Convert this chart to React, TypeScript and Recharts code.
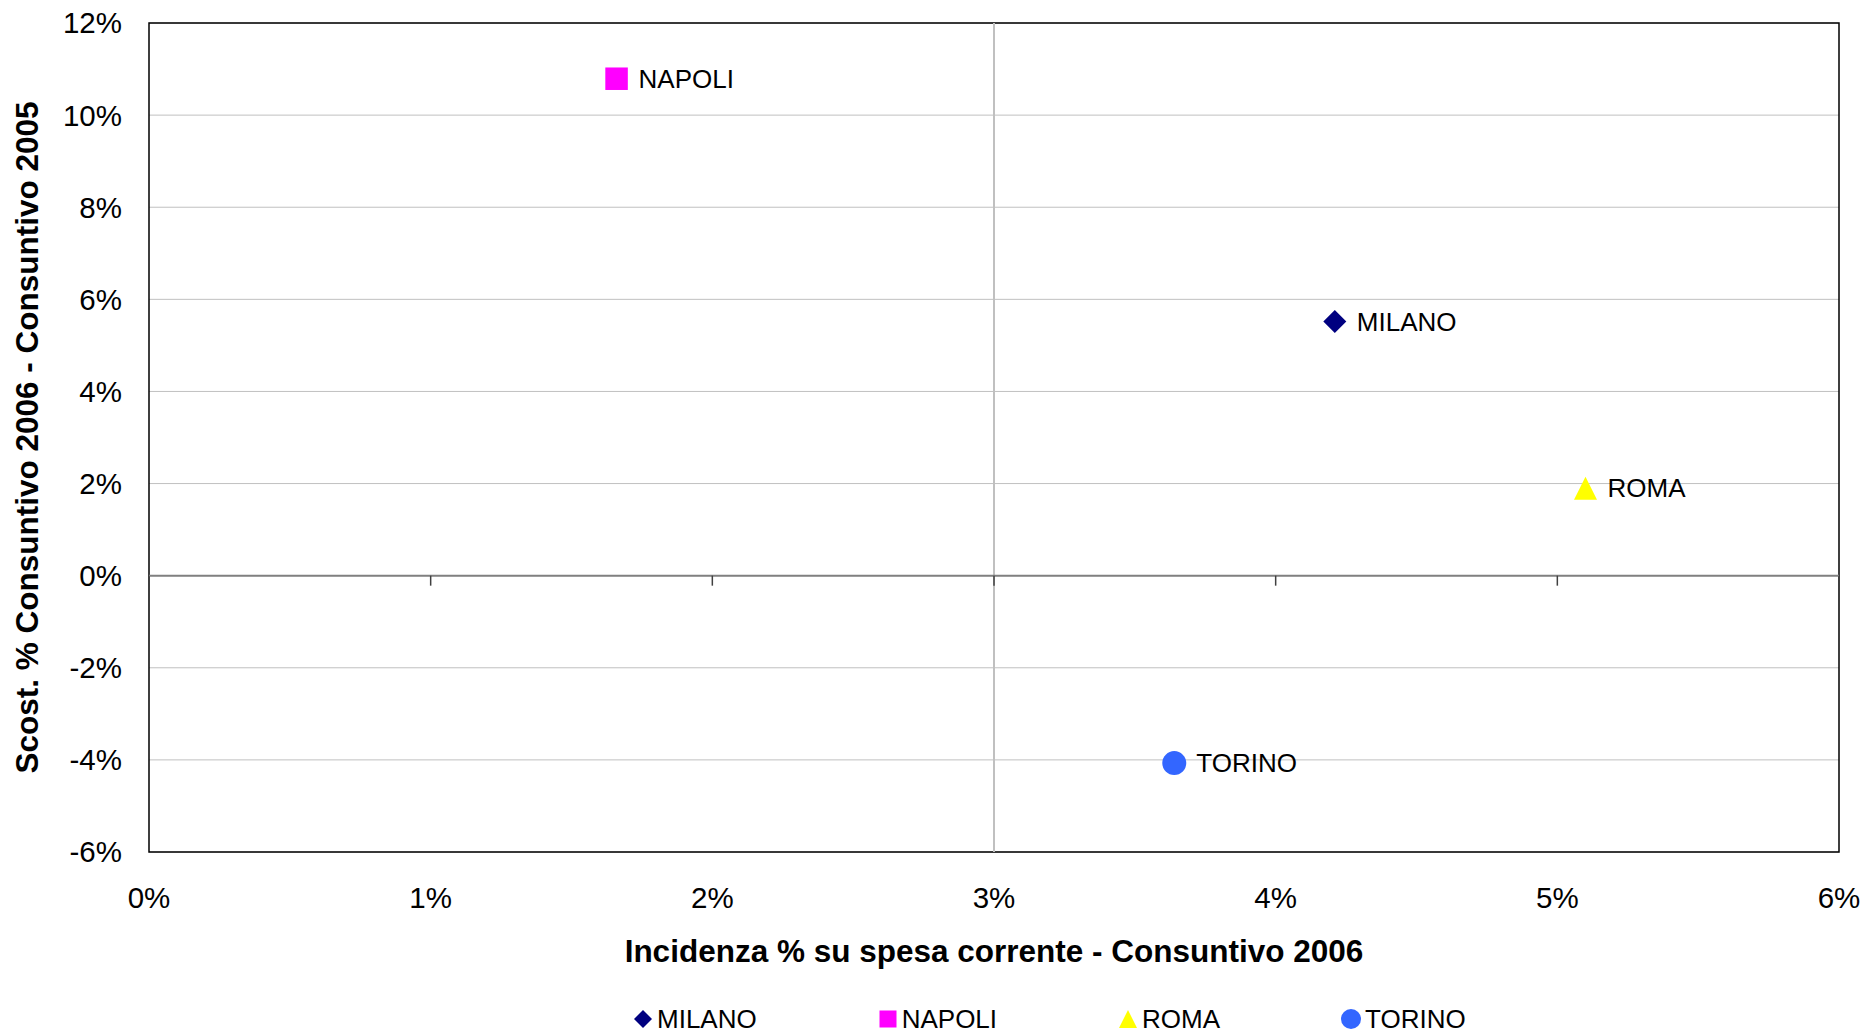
import { CartesianGrid, LabelList, Legend, ReferenceArea, ReferenceLine, Scatter, ScatterChart, XAxis, YAxis } from "recharts"

// city data: x = incidenza % 2006, y = scostamento % 2006 vs 2005
const cities = ["MILANO", "NAPOLI", "ROMA", "TORINO"]
const incidenza = [4.21, 1.66, 5.1, 3.64]
const scostamento = [5.52, 10.79, 1.9, -4.07]
const colors = ["#000080", "#FF00FF", "#FFFF00", "#3366FF"]
const markers = ["diamond", "square", "triangle", "circle"]

const xTicks = [0, 1, 2, 3, 4, 5, 6]
const yTicks = [-6, -4, -2, 0, 2, 4, 6, 8, 10, 12]
const xCross = 3
const yCross = 0

const FONT = '"Liberation Sans", Arial, Helvetica, sans-serif'
const markerR: Record<string, number> = { diamond: 11.5, square: 11.25, triangle: 11.5, circle: 12 }
const legendR: Record<string, number> = { diamond: 9, square: 8.5, triangle: 9, circle: 10 }

const pct = (v: number) => `${v}%`

const Marker = ({ kind, cx, cy, r, fill }: any) => {
    if (kind === "diamond")
        return <polygon points={`${cx},${cy - r} ${cx + r},${cy} ${cx},${cy + r} ${cx - r},${cy}`} fill={fill} />
    if (kind === "square")
        return <rect x={cx - r} y={cy - r} width={2 * r} height={2 * r} fill={fill} />
    if (kind === "triangle")
        return <polygon points={`${cx},${cy - r} ${cx + r},${cy + r} ${cx - r},${cy + r}`} fill={fill} />
    return <circle cx={cx} cy={cy} r={r} fill={fill} />
}

// horizontal axis line crossing at y = 0, with its tick marks
const ZeroAxis = (props: any) => {
    const { x1, x2, y1 } = props
    const lo = xTicks[0]
    const hi = xTicks[xTicks.length - 1]
    return (
        <g>
            <line x1={x1} y1={y1} x2={x2} y2={y1} stroke="#808080" strokeWidth={2} />
            {xTicks.map((t) => {
                const x = x1 + ((t - lo) / (hi - lo)) * (x2 - x1)
                return <line key={t} x1={x} x2={x} y1={y1} y2={y1 + 10} stroke="#404040" strokeWidth={1.5} />
            })}
        </g>
    )
}

const renderLegend = () => (
    <div style={{ display: "flex", alignItems: "center", fontFamily: FONT, fontSize: 26, lineHeight: "30px", color: "#000" }}>
        {cities.map((c, i) => (
            <div key={c} style={{ display: "flex", alignItems: "center", marginRight: i < cities.length - 1 ? 121 : 0 }}>
                <svg width={20} height={20} style={{ marginRight: 4 }}>
                    <Marker kind={markers[i]} cx={10} cy={10} r={legendR[markers[i]]} fill={colors[i]} />
                </svg>
                <span>{c}</span>
            </div>
        ))}
    </div>
)

const App = () => {
    return (
        <div style={{ position: "absolute", left: 0, top: 0 }}>
            <ScatterChart width={1865} height={1032} margin={{ top: 23, right: 26, bottom: 0, left: 0 }}>
                <CartesianGrid vertical={false} stroke="#c0c0c0" />
                <XAxis
                    type="number"
                    dataKey="x"
                    domain={[xTicks[0], xTicks[xTicks.length - 1]]}
                    ticks={xTicks}
                    interval={0}
                    tickFormatter={pct}
                    axisLine={false}
                    tickLine={false}
                    tickSize={0}
                    tickMargin={35}
                    height={180}
                    tick={{ fill: "#000", fontSize: 29.5, fontFamily: FONT }}
                    label={{
                        value: "Incidenza % su spesa corrente - Consuntivo 2006",
                        position: "insideBottom",
                        offset: 70,
                        style: { fill: "#000", fontSize: 31.5, fontWeight: "bold", fontFamily: FONT },
                    }}
                />
                <YAxis
                    type="number"
                    dataKey="y"
                    domain={[yTicks[0], yTicks[yTicks.length - 1]]}
                    ticks={yTicks}
                    interval={0}
                    tickFormatter={pct}
                    axisLine={false}
                    tickLine={false}
                    tickSize={0}
                    tickMargin={27}
                    width={149}
                    tick={{ fill: "#000", fontSize: 29.5, fontFamily: FONT }}
                    label={{
                        value: "Scost. % Consuntivo 2006 - Consuntivo 2005",
                        angle: -90,
                        position: "insideLeft",
                        offset: 27,
                        style: { fill: "#000", fontSize: 31.5, fontWeight: "bold", fontFamily: FONT, textAnchor: "middle" },
                    }}
                />
                <ReferenceLine x={xCross} stroke="#c0c0c0" strokeWidth={2} />
                <ReferenceLine y={yCross} shape={ZeroAxis} />
                <ReferenceArea
                    x1={xTicks[0]}
                    x2={xTicks[xTicks.length - 1]}
                    y1={yTicks[0]}
                    y2={yTicks[yTicks.length - 1]}
                    fill="none"
                    stroke="#000"
                    strokeWidth={1.5}
                />
                {cities.map((c, i) => (
                    <Scatter
                        key={c}
                        name={c}
                        data={[{ x: incidenza[i], y: scostamento[i], name: c }]}
                        fill={colors[i]}
                        isAnimationActive={false}
                        shape={(p: any) => <Marker kind={markers[i]} cx={p.cx} cy={p.cy} r={markerR[markers[i]]} fill={colors[i]} />}
                    >
                        <LabelList dataKey="name" position="right" offset={17.5} fill="#000" fontSize={26} fontFamily={FONT} />
                    </Scatter>
                ))}
                <Legend
                    layout="horizontal"
                    verticalAlign="middle"
                    align="center"
                    content={renderLegend}
                    wrapperStyle={{ top: 1004, left: 633, width: "auto" }}
                />
            </ScatterChart>
        </div>
    )
}

export default App
